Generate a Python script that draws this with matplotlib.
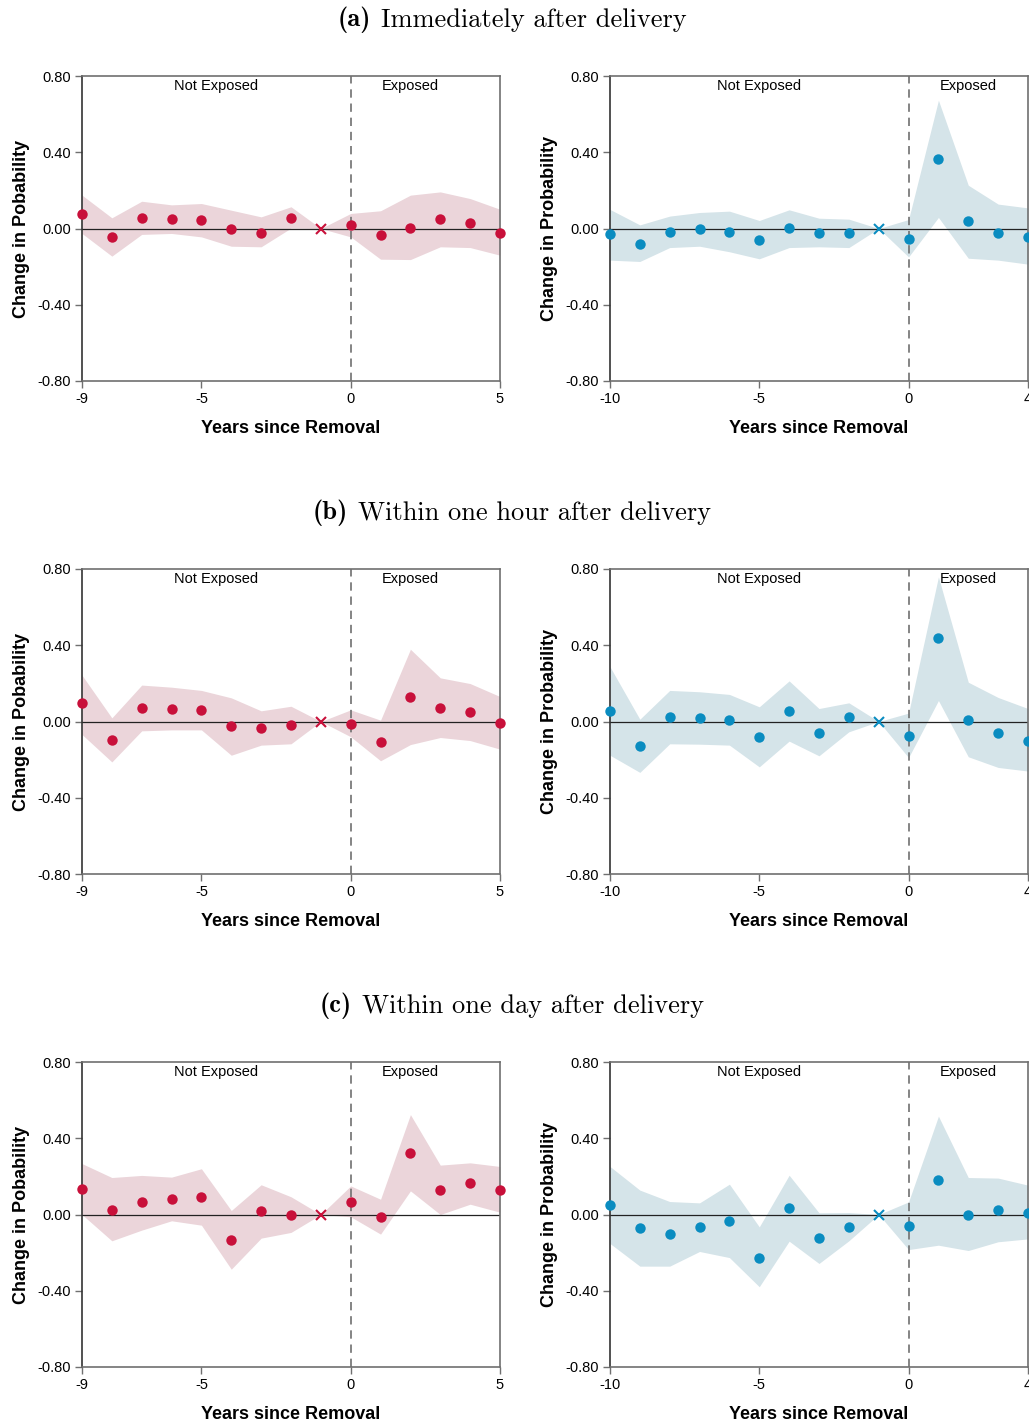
import matplotlib
matplotlib.use('Agg')
import matplotlib.pyplot as plt
import numpy as np

plt.rcParams['font.family'] = ['Liberation Sans', 'DejaVu Sans']
plt.rcParams['axes.unicode_minus'] = False

# x positions: years since removal
years_left = np.arange(-9, 6)
years_right = np.arange(-10, 5)

title_tags = ['(a)', '(b)', '(c)']
title_texts = ['Immediately after delivery',
               'Within one hour after delivery',
               'Within one day after delivery']

# left panels (red)
left_est = [
    [0.077, -0.047, 0.056, 0.049, 0.042, 0.0, -0.021, 0.056, 0.0, 0.017, -0.033, 0.005, 0.049, 0.030, -0.021],
    [0.098, -0.096, 0.072, 0.068, 0.058, -0.026, -0.033, -0.019, 0.0, -0.012, -0.105, 0.129, 0.072, 0.049, -0.009],
    [0.136, 0.026, 0.065, 0.082, 0.091, -0.133, 0.016, -0.002, 0.0, 0.066, -0.012, 0.325, 0.128, 0.164, 0.131],
]
left_hi = [
    [0.175, 0.056, 0.143, 0.124, 0.131, 0.096, 0.061, 0.114, 0.0, 0.079, 0.093, 0.175, 0.192, 0.157, 0.101],
    [0.243, 0.019, 0.191, 0.180, 0.163, 0.124, 0.056, 0.080, 0.0, 0.061, 0.007, 0.379, 0.229, 0.199, 0.131],
    [0.267, 0.194, 0.205, 0.196, 0.240, 0.021, 0.156, 0.093, 0.0, 0.150, 0.080, 0.524, 0.259, 0.271, 0.252],
]
left_lo = [
    [-0.026, -0.145, -0.031, -0.026, -0.044, -0.093, -0.096, 0.002, 0.0, -0.044, -0.161, -0.163, -0.096, -0.100, -0.140],
    [-0.068, -0.212, -0.049, -0.044, -0.044, -0.177, -0.124, -0.117, 0.0, -0.080, -0.206, -0.121, -0.084, -0.100, -0.145],
    [0.0, -0.138, -0.082, -0.033, -0.056, -0.287, -0.124, -0.094, 0.0, -0.012, -0.103, 0.124, 0.0, 0.054, 0.012],
]

# right panels (blue)
right_est = [
    [-0.031, -0.079, -0.017, -0.003, -0.017, -0.059, 0.002, -0.021, -0.024, 0.0, -0.056, 0.367, 0.037, -0.021, -0.044],
    [0.056, -0.126, 0.023, 0.017, 0.009, -0.082, 0.056, -0.058, 0.021, 0.0, -0.077, 0.439, 0.009, -0.058, -0.100],
    [0.049, -0.073, -0.101, -0.066, -0.033, -0.226, 0.035, -0.124, -0.063, 0.0, -0.058, 0.180, 0.0, 0.021, 0.010],
]
right_hi = [
    [0.100, 0.019, 0.065, 0.084, 0.091, 0.042, 0.098, 0.054, 0.049, 0.0, 0.047, 0.673, 0.227, 0.128, 0.108],
    [0.287, 0.012, 0.163, 0.156, 0.142, 0.077, 0.213, 0.068, 0.098, 0.0, 0.044, 0.759, 0.206, 0.126, 0.068],
    [0.252, 0.128, 0.068, 0.061, 0.159, -0.065, 0.206, 0.009, 0.010, 0.0, 0.066, 0.516, 0.194, 0.191, 0.154],
]
right_lo = [
    [-0.166, -0.173, -0.100, -0.093, -0.122, -0.159, -0.100, -0.096, -0.100, 0.0, -0.149, 0.058, -0.156, -0.166, -0.187],
    [-0.177, -0.267, -0.117, -0.119, -0.124, -0.238, -0.103, -0.180, -0.054, 0.0, -0.189, 0.110, -0.185, -0.241, -0.260],
    [-0.152, -0.271, -0.271, -0.194, -0.226, -0.379, -0.140, -0.257, -0.138, 0.0, -0.184, -0.161, -0.189, -0.143, -0.128],
]

RED, RED_FILL = '#c8103a', '#ebd5da'
BLUE, BLUE_FILL = '#0a8cc0', '#d5e4e9'

W, H = 1029, 1422
fig = plt.figure(figsize=(W / 100, H / 100), dpi=100)


def panel(ax, years, est, lo, hi, color, fill, ylabel, xlim, ticks, not_exp_x):
    years = np.asarray(years)
    est = np.asarray(est)
    ax.fill_between(years, lo, hi, color=fill, linewidth=0, zorder=1)
    ax.axhline(0, color='#222222', linewidth=0.9, zorder=2)
    ax.axvline(0, color='#707070', linewidth=1.2, linestyle=(0, (5, 3.5)), zorder=2)
    ref = years == -1
    ax.plot(years[~ref], est[~ref], 'o', color=color, markersize=7.5,
            markeredgewidth=0, zorder=3, clip_on=False)
    ax.plot(years[ref], est[ref], 'x', color=color, markersize=7,
            markeredgewidth=1.5, zorder=3)
    ax.set_xlim(*xlim)
    ax.set_ylim(-0.8, 0.8)
    ax.set_xticks(ticks)
    yt = [-0.8, -0.4, 0.0, 0.4, 0.8]
    ax.set_yticks(yt)
    ax.set_yticklabels(['%.2f' % v for v in yt])
    ax.tick_params(direction='out', length=5, width=1, color='#707070',
                   labelsize=10.5, labelcolor='black', pad=3)
    for side in ['top', 'right', 'bottom']:
        ax.spines[side].set_color('#707070')
        ax.spines[side].set_linewidth(1.2)
    ax.spines['left'].set_color('#333333')
    ax.spines['left'].set_linewidth(1.2)
    ax.set_xlabel('Years since Removal', fontsize=13, fontweight='bold', labelpad=10)
    ax.set_ylabel(ylabel, fontsize=13, fontweight='bold', labelpad=5)
    ax.text(not_exp_x, 0.745, 'Not Exposed', ha='center', va='center', fontsize=10.5)
    ax.text(2, 0.745, 'Exposed', ha='center', va='center', fontsize=10.5)


axes_top = [76, 569, 1062]
title_y = [20, 513, 1006]
ax_h = 305
ax_w = 418
renderer = fig.canvas.get_renderer()
for i in range(3):
    bottom = (H - axes_top[i] - ax_h) / H
    axl = fig.add_axes([82 / W, bottom, ax_w / W, ax_h / H])
    panel(axl, years_left, left_est[i], left_lo[i], left_hi[i], RED, RED_FILL,
          'Change in Pobability', (-9, 5), [-9, -5, 0, 5], -4.5)
    axr = fig.add_axes([610 / W, bottom, ax_w / W, ax_h / H])
    panel(axr, years_right, right_est[i], right_lo[i], right_hi[i], BLUE, BLUE_FILL,
          'Change in Probability', (-10, 4), [-10, -5, 0, 4], -5)

    # title: bold tag + regular text, centred together
    yy = 1 - title_y[i] / H
    t1 = fig.text(0, yy, title_tags[i], ha='left', va='center',
                  fontsize=19, family='cmb10')
    t2 = fig.text(0, yy, title_texts[i], ha='left', va='center',
                  fontsize=19, family='cmr10')
    w1 = t1.get_window_extent(renderer).width
    w2 = t2.get_window_extent(renderer).width
    gap = 10
    x0 = 512 - (w1 + gap + w2) / 2
    t1.set_x(x0 / W)
    t2.set_x((x0 + w1 + gap) / W)

plt.savefig('out.png', dpi=100)
